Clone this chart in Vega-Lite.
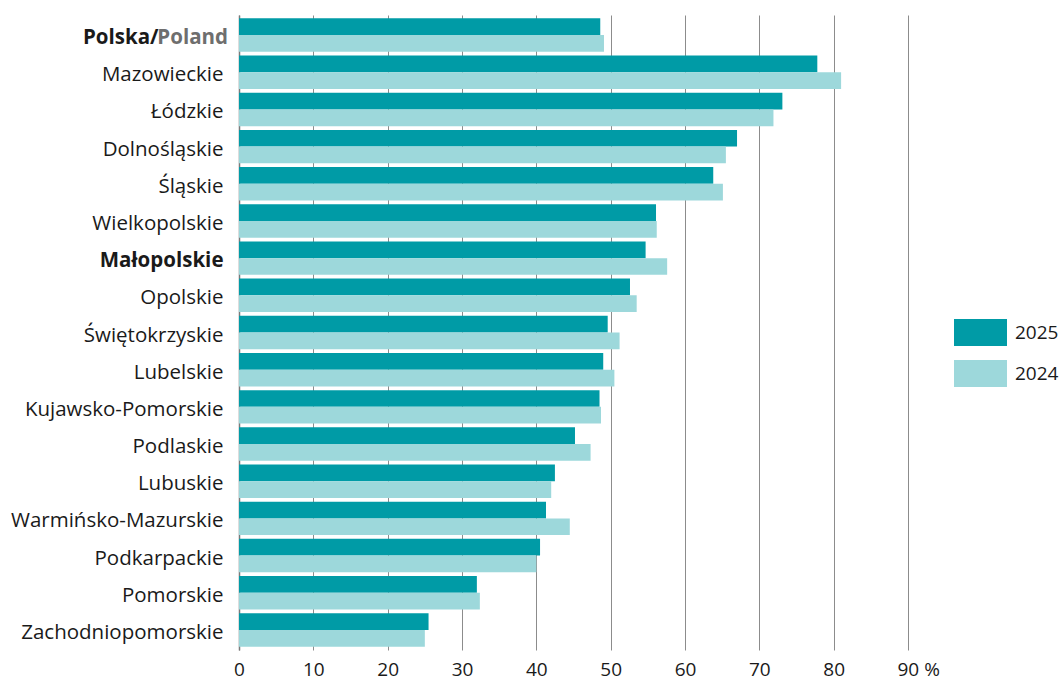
{
  "$schema": "https://vega.github.io/schema/vega-lite/v6.json",
  "width": 669,
  "height": 635,
  "autosize": "none",
  "padding": {"left": 239, "top": 15, "right": 153, "bottom": 32},
  "config": {"view": {"stroke": null}, "font": "Open Sans"},
  "data": {"values": [
    {"region": "Polska", "year": "2025", "value": 48.6},
    {"region": "Polska", "year": "2024", "value": 49.1},
    {"region": "Mazowieckie", "year": "2025", "value": 77.8},
    {"region": "Mazowieckie", "year": "2024", "value": 81.0},
    {"region": "Łódzkie", "year": "2025", "value": 73.1},
    {"region": "Łódzkie", "year": "2024", "value": 71.9},
    {"region": "Dolnośląskie", "year": "2025", "value": 67.0},
    {"region": "Dolnośląskie", "year": "2024", "value": 65.5},
    {"region": "Śląskie", "year": "2025", "value": 63.8},
    {"region": "Śląskie", "year": "2024", "value": 65.1},
    {"region": "Wielkopolskie", "year": "2025", "value": 56.1},
    {"region": "Wielkopolskie", "year": "2024", "value": 56.2},
    {"region": "Małopolskie", "year": "2025", "value": 54.7},
    {"region": "Małopolskie", "year": "2024", "value": 57.6},
    {"region": "Opolskie", "year": "2025", "value": 52.6},
    {"region": "Opolskie", "year": "2024", "value": 53.5},
    {"region": "Świętokrzyskie", "year": "2025", "value": 49.6},
    {"region": "Świętokrzyskie", "year": "2024", "value": 51.2},
    {"region": "Lubelskie", "year": "2025", "value": 49.0},
    {"region": "Lubelskie", "year": "2024", "value": 50.5},
    {"region": "Kujawsko-Pomorskie", "year": "2025", "value": 48.5},
    {"region": "Kujawsko-Pomorskie", "year": "2024", "value": 48.7},
    {"region": "Podlaskie", "year": "2025", "value": 45.2},
    {"region": "Podlaskie", "year": "2024", "value": 47.3},
    {"region": "Lubuskie", "year": "2025", "value": 42.5},
    {"region": "Lubuskie", "year": "2024", "value": 42.0},
    {"region": "Warmińsko-Mazurskie", "year": "2025", "value": 41.3},
    {"region": "Warmińsko-Mazurskie", "year": "2024", "value": 44.5},
    {"region": "Podkarpackie", "year": "2025", "value": 40.5},
    {"region": "Podkarpackie", "year": "2024", "value": 40.0},
    {"region": "Pomorskie", "year": "2025", "value": 32.0},
    {"region": "Pomorskie", "year": "2024", "value": 32.4},
    {"region": "Zachodniopomorskie", "year": "2025", "value": 25.5},
    {"region": "Zachodniopomorskie", "year": "2024", "value": 25.0}
  ]},
  "layer": [
    {
      "mark": {"type": "bar"},
      "encoding": {
        "y": {
          "field": "region", "type": "nominal", "sort": null,
          "scale": {"paddingInner": 0.1, "paddingOuter": 0.09},
          "axis": {
            "title": null, "domain": true, "domainColor": "#7a7a7a", "domainWidth": 1.5,
            "ticks": false, "grid": false, "labelLimit": 0, "labelOffset": 3,
            "labelFontSize": 20.5, "labelColor": "#1a1a1a",
            "labelExpr": "datum.value === 'Polska' ? 'Polska/' : datum.value",
            "labelPadding": {"condition": {"test": "datum.value === 'Polska'", "value": 81}, "value": 16},
            "labelFontWeight": {"condition": {"test": "datum.value === 'Polska' || datum.value === 'Małopolskie'", "value": "bold"}, "value": "normal"}
          }
        },
        "yOffset": {"field": "year", "type": "nominal", "sort": ["2025", "2024"]},
        "x": {
          "field": "value", "type": "quantitative",
          "scale": {"domain": [0, 90], "nice": false},
          "axis": {
            "title": null, "grid": true, "gridColor": "#8c8c8c", "domain": false, "ticks": false,
            "values": [0, 10, 20, 30, 40, 50, 60, 70, 80, 90],
            "labelFontSize": 19, "labelColor": "#1a1a1a", "labelPadding": 10, "labelFlush": false,
            "labelExpr": "datum.value === 90 ? '90 %' : datum.label",
            "labelAlign": {"condition": {"test": "datum.value === 90", "value": "left"}, "value": "center"},
            "labelOffset": {"condition": {"test": "datum.value === 90", "value": -11}, "value": 0}
          }
        },
        "color": {
          "field": "year", "type": "nominal",
          "scale": {"domain": ["2025", "2024"], "range": ["#009BA6", "#9DD8DB"]},
          "legend": {
            "title": null, "orient": "none", "legendX": 715, "legendY": 291, "padding": 0,
            "symbolType": "M-1,-0.51H1V0.51H-1Z", "symbolSize": 2809, "symbolStrokeWidth": 0,
            "labelFontSize": 19, "labelColor": "#1a1a1a", "labelOffset": 8, "rowPadding": 0
          }
        }
      }
    },
    {
      "data": {"values": [{"region": "Polska", "label": "Poland", "value": 0}]},
      "mark": {"type": "text", "align": "right", "baseline": "middle", "dx": -11, "dy": 3, "fontWeight": "bold", "color": "#6e6e6e", "fontSize": 20.5},
      "encoding": {
        "y": {"field": "region", "type": "nominal", "sort": null},
        "x": {"field": "value", "type": "quantitative"},
        "text": {"field": "label"}
      }
    }
  ]
}
